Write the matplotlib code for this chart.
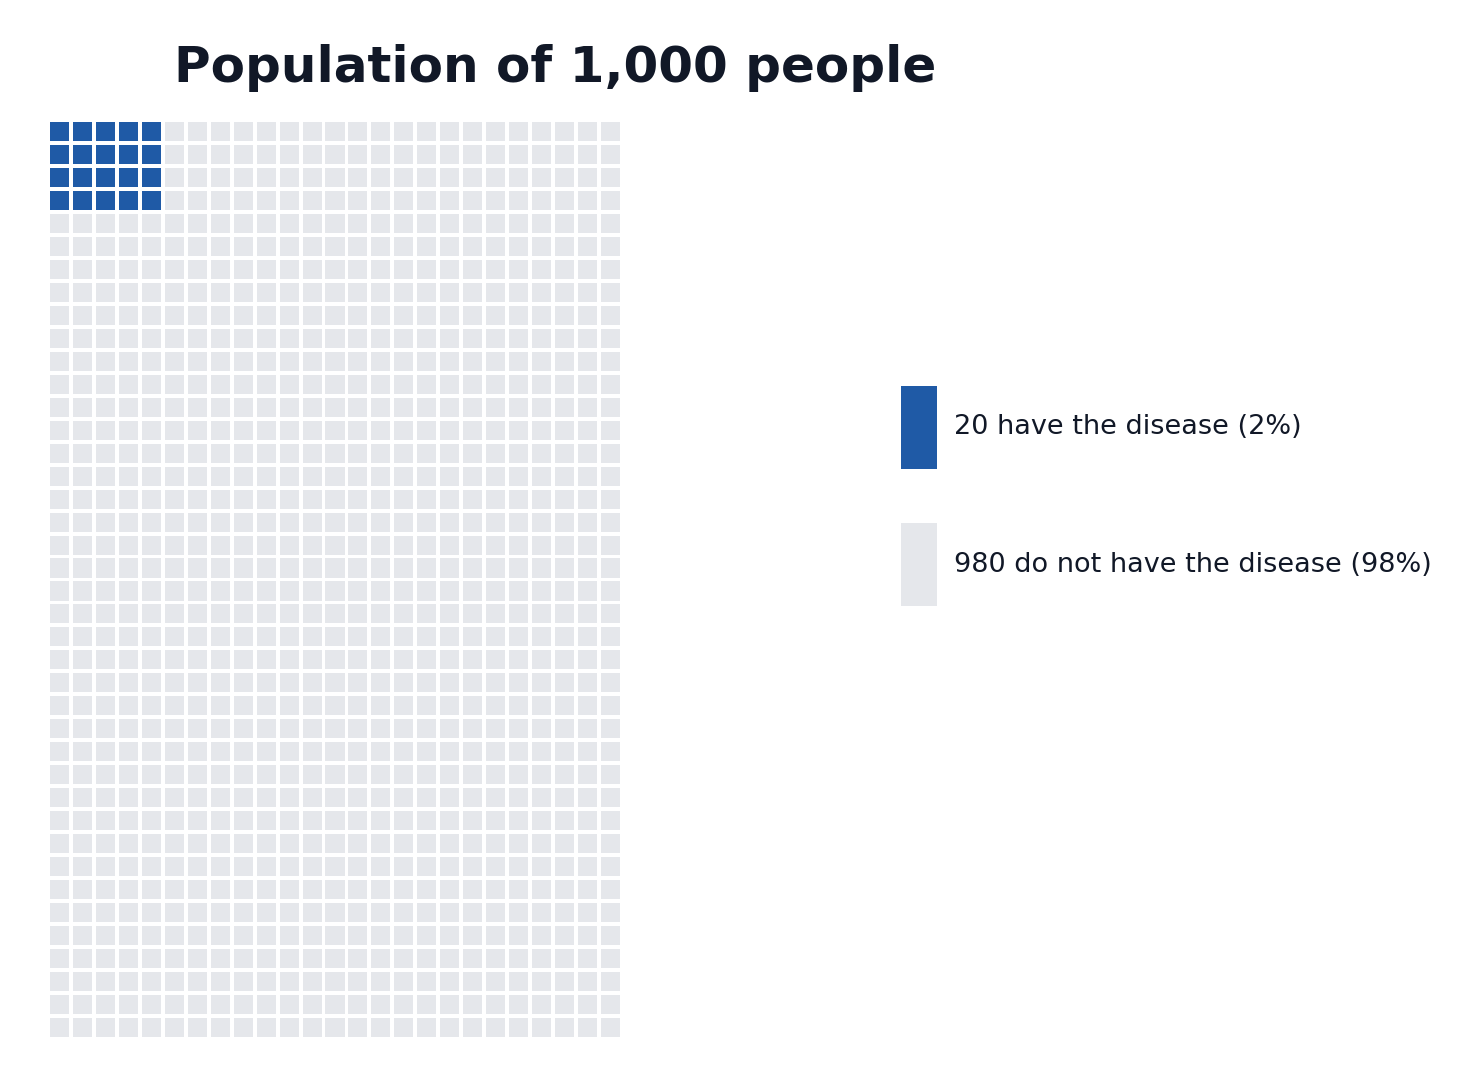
import matplotlib.pyplot as plt
from matplotlib.patches import Rectangle, Patch

title = 'Population of 1,000 people'
n_cols = 25
n_rows = 40
counts = [20, 980]
labels = ['20 have the disease (2%)', '980 do not have the disease (98%)']
colors = ['#1f5aa6', '#e5e7eb']
block_cols = 5  # the 20 blue cells sit as a 5x4 block in the top-left corner

fig = plt.figure(figsize=(14.76, 10.86), dpi=100)
ax = fig.add_axes([50/1476, 49/1086, 570/1476, 915/1086])

size = 0.83
for r in range(n_rows):
    for c in range(n_cols):
        if c < block_cols and r * block_cols + c < counts[0]:
            col = colors[0]
        else:
            col = colors[1]
        ax.add_patch(Rectangle((c, n_rows - 1 - r), size, size, facecolor=col, edgecolor='none'))

ax.set_xlim(0, n_cols - 1 + size)
ax.set_ylim(0, n_rows - 1 + size)
ax.axis('off')

fig.text(555/1476, 1 - 68/1086, title, ha='center', va='center',
         fontsize=36, fontweight='bold', color='#111827')

handles = [Patch(facecolor=colors[i], edgecolor='none') for i in range(2)]
leg = fig.legend(handles, labels, loc='center left', bbox_to_anchor=(879/1476, 1 - 496/1086),
                 frameon=False, fontsize=19.5, handlelength=1.33, handleheight=4.34,
                 labelspacing=2.0, handletextpad=0.63, borderpad=0.3)
for t in leg.get_texts():
    t.set_color('#111827')

fig.savefig('out.png', dpi=100)
